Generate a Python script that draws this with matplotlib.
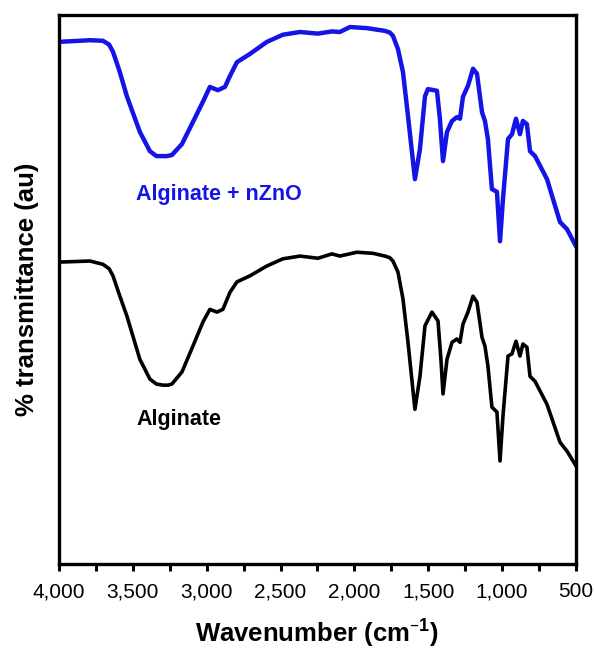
import matplotlib
matplotlib.use('Agg')
import matplotlib.pyplot as plt
from matplotlib.ticker import MultipleLocator, FuncFormatter

plt.rcParams['font.family'] = ['Liberation Sans', 'DejaVu Sans']
plt.rcParams['mathtext.default'] = 'regular'

# FTIR spectra (transmittance in arbitrary units, 0-100)
wn_zno = [4000, 3790, 3702, 3660, 3634, 3590, 3540, 3452, 3384, 3340, 3316, 3270, 3235, 3167,
          3093, 3025, 2978, 2924, 2876, 2842, 2795, 2707, 2592, 2484,
          2368, 2247, 2152, 2098, 2030, 1915, 1793, 1760, 1739, 1705, 1671, 1637, 1590,
          1556, 1522, 1502, 1441, 1421, 1400, 1373, 1339, 1306, 1285,
          1265, 1231, 1197, 1170, 1136, 1116, 1096, 1069, 1035, 1014,
          994, 960, 933, 906, 879, 859, 832, 811, 777, 696,
          608, 561, 500]
t_zno = [95.1, 95.4, 95.3, 94.6, 93.3, 89.8, 85.2, 78.7, 75.2, 74.3, 74.3, 74.3, 74.5, 76.5,
         80.5, 84.2, 86.9, 86.3, 86.9, 88.9, 91.4, 92.9, 95.1, 96.4,
         96.9, 96.6, 97.0, 96.9, 97.8, 97.6, 97.1, 96.8, 96.2, 93.8, 89.6, 81.6, 70.1,
         75.6, 85.2, 86.5, 86.2, 81.1, 73.4, 78.7, 80.7, 81.4, 81.1,
         85.1, 87.1, 90.2, 89.3, 82.3, 80.7, 77.4, 68.3, 67.8, 58.8,
         66.5, 77.4, 78.3, 81.1, 78.3, 80.7, 80.1, 75.2, 74.3, 70.1,
         62.3, 61.0, 57.9]

wn_alg = [4000, 3790, 3702, 3660, 3634, 3590, 3540, 3452, 3384, 3340, 3296, 3260, 3235, 3167,
          3093, 3025, 2978, 2930, 2890, 2842, 2795, 2707, 2592, 2484,
          2368, 2247, 2152, 2098, 1983, 1874, 1793, 1760, 1739, 1705, 1671,
          1637, 1590, 1556, 1522, 1475, 1434, 1414, 1400, 1373, 1339,
          1306, 1285, 1265, 1231, 1197, 1170, 1136, 1116, 1096, 1069,
          1035, 1014, 994, 960, 933, 906, 879, 859, 832, 811,
          777, 696, 608, 561, 500]
t_alg = [55.0, 55.2, 54.6, 53.8, 52.5, 49.0, 45.2, 37.3, 33.7, 32.8, 32.6, 32.6, 32.8, 35.0,
         39.7, 44.1, 46.4, 45.9, 46.4, 49.5, 51.4, 52.5, 54.3, 55.6,
         56.1, 55.7, 56.5, 56.1, 56.8, 56.6, 56.1, 55.8, 55.2, 53.2, 48.3,
         40.4, 28.2, 34.2, 43.4, 45.9, 44.3, 37.3, 31.0, 37.3, 40.4,
         41.0, 40.4, 43.7, 45.9, 48.8, 47.7, 41.3, 39.7, 36.1, 28.6,
         27.7, 18.8, 27.0, 37.9, 38.3, 40.6, 37.9, 40.1, 39.5, 34.2,
         33.3, 29.1, 22.2, 20.6, 17.9]

blue = '#1414e6'

fig = plt.figure(figsize=(5.95, 6.5), dpi=100)
ax = fig.add_axes([0.099, 0.132, 0.869, 0.845])

ax.plot(wn_zno, t_zno, color=blue, linewidth=3.2, solid_joinstyle='round',
        solid_capstyle='round')
ax.plot(wn_alg, t_alg, color='black', linewidth=2.6, solid_joinstyle='round',
        solid_capstyle='round')

ax.text(3475, 67.4, 'Alginate + nZnO', color=blue, fontsize=15.5,
        fontweight='bold', ha='left', va='center')
ax.text(3475, 26.4, 'Alginate', color='black', fontsize=15.5,
        fontweight='bold', ha='left', va='center')

ax.set_xlim(4000, 500)
ax.set_ylim(0, 100)
ax.xaxis.set_major_locator(MultipleLocator(500))
ax.xaxis.set_minor_locator(MultipleLocator(250))
ax.xaxis.set_major_formatter(FuncFormatter(lambda v, p: f'{v:,.0f}'))
ax.set_yticks([])
ax.tick_params(axis='x', which='both', direction='out', length=5, width=2.2,
               labelsize=15, pad=8)

for s in ax.spines.values():
    s.set_linewidth(2.4)

ax.set_xlabel('Wavenumber (cm$^{\u2013 1}$)', fontsize=18.5, fontweight='bold', labelpad=12)
ax.set_ylabel('% transmittance (au)', fontsize=18.5, fontweight='bold', labelpad=14)

fig.savefig('out.png', dpi=100)
